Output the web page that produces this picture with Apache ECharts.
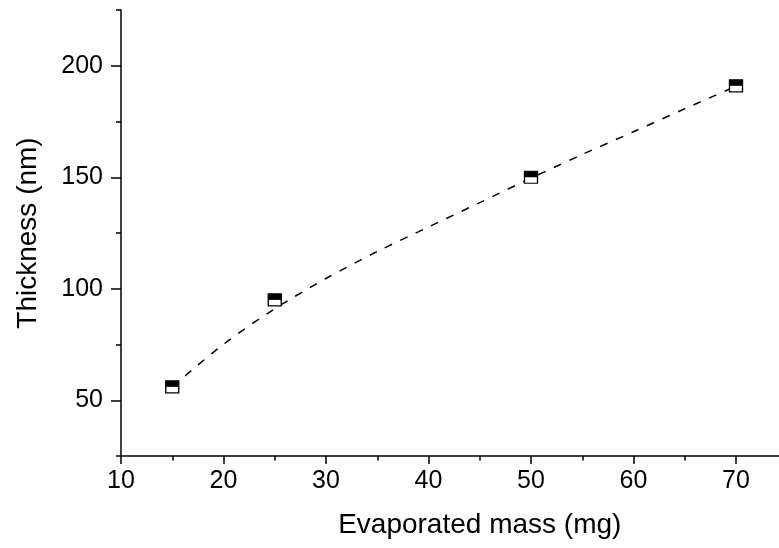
<!DOCTYPE html>
<html>
<head>
<meta charset="utf-8">
<script src="https://cdn.jsdelivr.net/npm/echarts@6/dist/echarts.min.js"></script>
<style>
html,body{margin:0;padding:0;background:#fff;}
#c{width:779px;height:548px;}
</style>
</head>
<body>
<div id="c"></div>
<script>
// Measured data points
const massMg = [15, 25, 50, 70];
const thicknessNm = [56, 95, 150, 191];
// Dashed fit curve
const fitMass = [15, 20, 25, 30, 35, 40, 45, 50, 55, 60, 65, 70];
const fitThickness = [56, 75.1, 91, 104.6, 116.7, 127.7, 138.6, 149.6, 160.2, 170.4, 180.7, 190.8];
// Tick labels
const xTickLabels = [10, 20, 30, 40, 50, 60, 70];
const yTickLabels = [50, 100, 150, 200];

const FONT = '"Liberation Sans", Arial, sans-serif';
const pts = massMg.map((x, i) => [x, thicknessNm[i]]);
const fit = fitMass.map((x, i) => [x, fitThickness[i]]);

const chart = echarts.init(document.getElementById('c'), null, {renderer: 'canvas'});
chart.setOption({
  backgroundColor: '#fff',
  animation: false,
  grid: {left: 121, top: 10, right: -59.5, bottom: 92, outerBoundsMode: 'none'},
  xAxis: [{
    type: 'value', min: 10, max: 80, interval: 10, position: 'bottom',
    name: 'Evaporated mass (mg)', nameLocation: 'middle', nameGap: 55,
    nameTextStyle: {fontFamily: FONT, fontSize: 28, color: '#000'},
    axisLine: {show: true, lineStyle: {color: '#000', width: 1.5}},
    axisTick: {show: true, inside: false, length: 8, lineStyle: {color: '#000', width: 1.5}},
    minorTick: {show: true, splitNumber: 2, length: 4.5, lineStyle: {color: '#000', width: 1.5}},
    splitLine: {show: false}, minorSplitLine: {show: false},
    axisLabel: {
      fontFamily: FONT, fontSize: 25, color: '#000', margin: 13,
      formatter: v => xTickLabels.includes(v) ? String(v) : ''
    }
  }],
  yAxis: [{
    type: 'value', min: 25, max: 225, interval: 25, position: 'left',
    axisLine: {show: true, lineStyle: {color: '#000', width: 1.5}},
    axisTick: {show: true, inside: false, length: 5, lineStyle: {color: '#000', width: 1.5}},
    splitLine: {show: false},
    axisLabel: {show: false}
  }, {
    type: 'value', min: 25, max: 225, interval: 25, position: 'left', offset: 0,
    name: 'Thickness (nm)', nameLocation: 'middle', nameGap: 79, nameRotate: 90,
    nameTextStyle: {fontFamily: FONT, fontSize: 28, color: '#000'},
    axisLine: {show: false},
    axisTick: {show: true, inside: false, length: 10, customValues: yTickLabels,
      lineStyle: {color: '#000', width: 1.5}},
    splitLine: {show: false},
    axisLabel: {fontFamily: FONT, fontSize: 25, color: '#000', margin: 18,
      customValues: yTickLabels}
  }],
  series: [{
    type: 'line', data: fit, smooth: 0.3, showSymbol: false, symbol: 'none',
    lineStyle: {color: '#000', width: 1.5, type: [8, 9]}, z: 2, silent: true
  }, {
    type: 'scatter', data: pts, symbol: 'rect', symbolSize: [13, 12],
    itemStyle: {color: '#fff', borderColor: '#000', borderWidth: 1.3, opacity: 1}, z: 3
  }, {
    type: 'scatter', data: pts, symbol: 'rect', symbolSize: [13, 6], symbolOffset: [0, -3],
    itemStyle: {color: '#000', opacity: 1}, z: 4
  }]
});
</script>
</body>
</html>
